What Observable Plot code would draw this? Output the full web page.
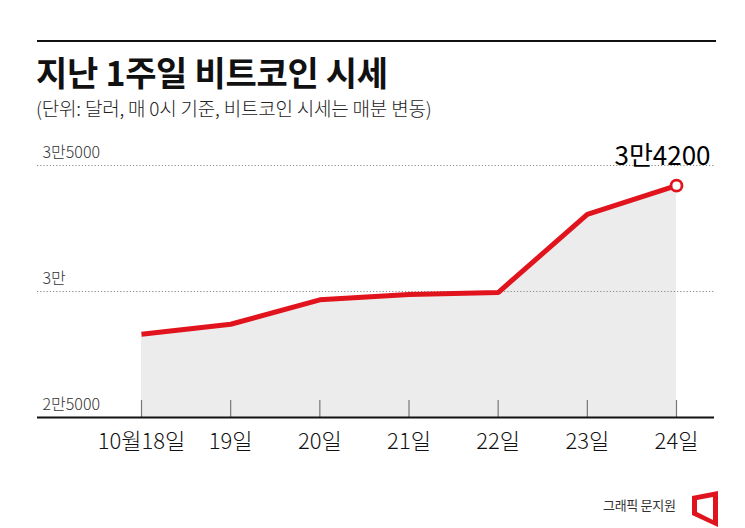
<!DOCTYPE html>
<html>
<head>
<meta charset="utf-8">
<script src="https://cdn.jsdelivr.net/npm/d3@7"></script>
<script src="https://cdn.jsdelivr.net/npm/@observablehq/plot@0.6"></script>
<style>
  html, body { margin: 0; padding: 0; background: #fff; }
  body { width: 745px; height: 528px; position: relative; overflow: hidden;
         font-family: "Noto Sans CJK KR", "Noto Sans", sans-serif; color: #111; }
  #rule { position: absolute; left: 37px; top: 39.5px; width: 679px; height: 2.5px; background: #111; }
  #title { position: absolute; left: 36px; top: 53px; font-size: 34px; line-height: 38px; font-weight: 700; letter-spacing: -0.3px; white-space: nowrap; }
  #subtitle { position: absolute; left: 36px; top: 96px; font-size: 19px; line-height: 23px; color: #222; white-space: nowrap; letter-spacing: -0.2px; font-weight: 300; }
  #chart { position: absolute; left: 0; top: 130px; }
  #credit { position: absolute; left: 603px; top: 497px; font-size: 13px; line-height: 16px; color: #333; white-space: nowrap; letter-spacing: -0.3px; }
  #logo { position: absolute; left: 688px; top: 489px; }
</style>
</head>
<body>
<div id="rule"></div>
<div id="title">지난 1주일 비트코인 시세</div>
<div id="subtitle">(단위: 달러, 매 0시 기준, 비트코인 시세는 매분 변동)</div>
<div id="chart"></div>
<div id="credit">그래픽 문지원</div>
<svg id="logo" width="34" height="40" viewBox="0 0 34 40">
  <path fill-rule="evenodd" fill="#e0141e"
        d="M4,7 L30,2 L30,38 L4,26 Z M9,11 L25,8 L25,31 L9,23 Z"/>
</svg>
<script>
// ---- data ----
const days = [18, 19, 20, 21, 22, 23, 24];
const dayLabels = ["10월18일", "19일", "20일", "21일", "22일", "23일", "24일"];
const prices = [28300, 28700, 29670, 29880, 29960, 33060, 34200];
const yTicks = [25000, 30000, 35000];
const yTickLabels = ["2만5000", "3만", "3만5000"];
const lastLabel = "3만4200";

const rows = days.map((d, i) => ({day: d, label: dayLabels[i], price: prices[i]}));
const ticks = yTicks.map((v, i) => ({v, label: yTickLabels[i]}));
const last = [rows[rows.length - 1]];

const red = "#e1141e";
const font = "Noto Sans CJK KR";

const chart = Plot.plot({
  width: 745,
  height: 340,
  marginLeft: 37,
  marginRight: 31,
  marginTop: 35,
  marginBottom: 53,
  style: {fontFamily: font, background: "transparent", overflow: "visible"},
  x: {domain: [18, 24], insetLeft: 104, insetRight: 38, axis: null},
  y: {domain: [25000, 35000], axis: null},
  marks: [
    Plot.areaY(rows, {x: "day", y1: 25000, y2: "price", fill: "#ececec"}),
    Plot.ruleY(ticks.filter(t => t.v > 25000), {y: "v", stroke: "#8a8a8a", strokeWidth: 1, strokeDasharray: "1.2,2"}),
    Plot.tickX(rows, {x: "day", stroke: "#777", strokeWidth: 1.2, insetTop: 235}),
    Plot.ruleY([25000], {stroke: "#111", strokeWidth: 2}),
    Plot.text(ticks, {y: "v", text: "label", frameAnchor: "left", textAnchor: "start", dx: 5, dy: -13,
                      fontSize: 16, fontWeight: 300, fill: "#333", letterSpacing: "-0.5px"}),
    Plot.text(rows, {x: "day", y: 25000, text: "label", dy: 24, fontSize: 22, fontWeight: 300, fill: "#111", letterSpacing: "-1px"}),
    Plot.line(rows, {x: "day", y: "price", stroke: red, strokeWidth: 5, strokeLinejoin: "miter", strokeLinecap: "butt"}),
    Plot.dot(last, {x: "day", y: "price", r: 5.5, fill: "white", stroke: red, strokeWidth: 2.8}),
    Plot.text(last, {x: "day", y: "price", text: () => lastLabel, dx: -14, dy: -29, fontSize: 26, fontWeight: 400, fill: "#000", letterSpacing: "-1.5px"})
  ]
});
document.getElementById("chart").appendChild(chart);
</script>
</body>
</html>
